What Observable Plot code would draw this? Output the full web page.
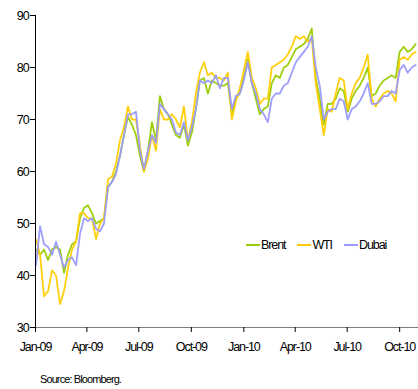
<!DOCTYPE html>
<html>
<head>
<meta charset="utf-8">
<script src="https://cdn.jsdelivr.net/npm/d3@7"></script>
<script src="https://cdn.jsdelivr.net/npm/@observablehq/plot@0.6"></script>
<style>
  html, body { margin: 0; padding: 0; background: #fff; }
  #wrap { position: relative; width: 418px; height: 389px; font-family: "Liberation Sans", Arial, sans-serif; }
  #legend { position: absolute; left: 246px; top: 238px; font-size: 12.5px; letter-spacing: -1.1px; color: #000; display: flex; align-items: center; }
  #legend .item { display: flex; align-items: center; margin-right: 12px; }
  #legend .sw { display: inline-block; width: 14px; height: 2px; margin-right: 1px; }
  #source { position: absolute; left: 40px; top: 373px; font-size: 11px; letter-spacing: -0.9px; color: #000; }
</style>
</head>
<body>
<div id="wrap"><div id="chart"></div><div id="legend"></div><div id="source">Source: Bloomberg.</div></div>
<script>
// Weekly readings (USD/bbl), starting 2 Jan 2009
const startDate = "2009-01-02";
const seriesNames = ["Brent", "WTI", "Dubai"];
const seriesColors = ["#99cc00", "#ffcc00", "#9999ff"];
const brent = [45,44,45,43,45,45.5,45,40.5,44,46,46.5,51,53,53.5,52,50,50.5,51,57,58,60,63,67,70.5,69,67,63,60,64,69.5,66,74.5,72,71,69,67,66.5,69,65,67.5,72,77.5,78,75,77.5,77,76.5,76.5,77,71,74,75,78,81.5,77,74,71,72,72.5,77,78.5,78,80,80.5,82,83.5,84,84.5,85.5,87.5,78,74,69,73,73,74,76,75.5,71.5,74,75.5,76.5,78,80,74.5,75,76.5,77.5,78,78.5,78,83,84,83,83.5,84.5];
const wti = [47,44,36,37,41,40,34.5,37,41.5,45,46.5,52,52,51,51,47,50,51,58.5,59,61.5,66,68.5,72.5,70,70,65,60,62.5,67,64,72,70,70,71,70,68.5,72.5,66,69.5,75,79,81,78.5,79,78,78,77.5,79,70,73.5,76,79.5,83,78,76,73,74,74,80,80.5,81,81.5,82.5,84,86,85.5,86,85,85.5,77,72,67,72,71.5,75,78,77.5,72,75,77,78,80,82.5,74,72.5,74,75,75.5,75,73.5,81.5,82,81.5,82.5,83];
const dubai = [42,49.5,46,45.5,44,46.5,44,41.5,43,43.5,42,48,51,50.5,51,49,48.5,50,57,58,59.5,63,67,71,71,71.5,64,60.5,64,67,65.5,73,72,71,70,67.5,67,69.5,66,68.5,72,77.5,77,77.5,77,78.5,76,78,78,72,74.5,75,77.5,81,77,75,72,71,69.5,74,75,75,76.5,77,79,81,82,83,84,86,80,76.5,70,71.5,72,72,74,73.5,70,72,72.5,73.5,75,77,73,73,73.5,74.5,74.5,75.5,75,79.5,80.5,79,80,80.5];
const yTicks = [30, 40, 50, 60, 70, 80, 90];

const t0 = new Date(startDate + "T00:00:00Z");
const dates = brent.map((_, i) => d3.utcDay.offset(t0, 7 * i));
const rows = [];
[brent, wti, dubai].forEach((arr, s) => arr.forEach((v, i) => rows.push({date: dates[i], value: v, series: seriesNames[s]})));

const chart = Plot.plot({
  width: 418,
  height: 367,
  marginLeft: 35,
  marginRight: 0,
  marginTop: 15,
  marginBottom: 40,
  style: {fontFamily: "'Liberation Sans', Arial, sans-serif", fontSize: "12.5px", letterSpacing: "-1.1px", color: "#000", background: "transparent"},
  x: {type: "utc", domain: [new Date(Date.UTC(2009,0,1)), new Date(Date.UTC(2010,10,3))]},
  y: {domain: [30, 90]},
  color: {domain: seriesNames, range: seriesColors},
  marks: [
    Plot.line(rows, {x: "date", y: "value", z: "series", stroke: "series", strokeWidth: 1.8, strokeOpacity: 0.95}),
    Plot.frame({anchor: "bottom", stroke: "#808080"}),
    Plot.frame({anchor: "left", stroke: "#000"}),
    Plot.axisY({ticks: yTicks, tickSize: 5, tickPadding: 2, label: null, stroke: "#000"}),
    Plot.axisX({ticks: d3.utcMonth.every(3), tickFormat: d3.utcFormat("%b-%y"), tickSize: 5, tickPadding: 10, label: null, stroke: "#000"})
  ]
});
document.getElementById("chart").appendChild(chart);

const legend = document.getElementById("legend");
seriesNames.forEach((n, i) => {
  const it = document.createElement("span");
  it.className = "item";
  const sw = document.createElement("span");
  sw.className = "sw";
  sw.style.background = seriesColors[i];
  it.appendChild(sw);
  it.appendChild(document.createTextNode(n));
  legend.appendChild(it);
});
</script>
</body>
</html>
